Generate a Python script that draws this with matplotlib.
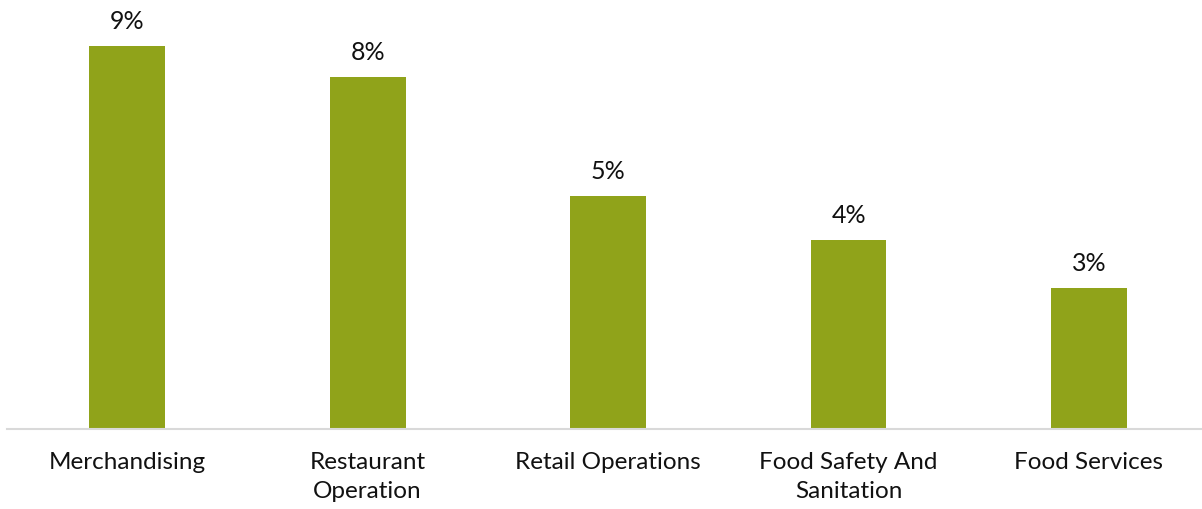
import matplotlib.pyplot as plt

categories = ['Merchandising', 'Restaurant\nOperation', 'Retail Operations',
              'Food Safety And\nSanitation', 'Food Services']
shares = [0.087, 0.080, 0.053, 0.043, 0.032]

bar_color = '#90A31A'
plt.rcParams['font.family'] = ['Lato', 'DejaVu Sans']

fig = plt.figure(figsize=(12.02, 5.10), dpi=100)
ax = fig.add_axes([7 / 1202, 80 / 510, 1195 / 1202, 430 / 510])

x = range(len(categories))
bars = ax.bar(x, shares, width=0.315, color=bar_color)

for b, v in zip(bars, shares):
    ax.annotate(f'{v:.0%}', (b.get_x() + b.get_width() / 2, v),
                xytext=(0, 10), textcoords='offset points',
                ha='center', va='bottom', fontsize=18, color='#111111')

ax.set_xlim(-0.5, 4.47)
ax.set_ylim(0, 0.0977)
ax.set_xticks(list(x))
ax.set_xticklabels(categories, fontsize=17.5, color='#111111', linespacing=1.45)
ax.tick_params(axis='x', length=0, pad=16)
ax.set_yticks([])

for s in ['top', 'right', 'left']:
    ax.spines[s].set_visible(False)
ax.spines['bottom'].set_color('#d9d9d9')
ax.spines['bottom'].set_linewidth(1.5)

plt.savefig('out.png', dpi=100)
